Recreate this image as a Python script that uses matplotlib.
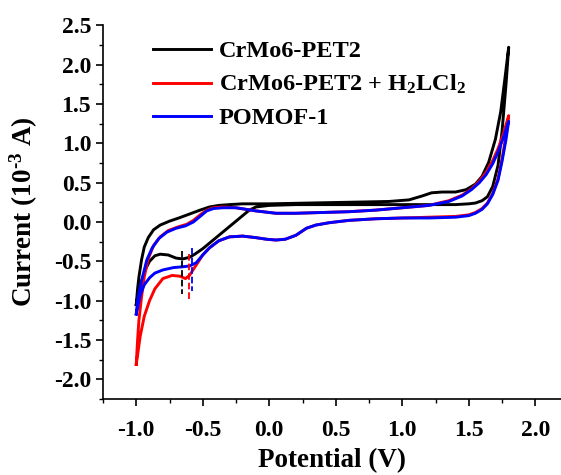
import matplotlib
matplotlib.use('Agg')
import matplotlib.pyplot as plt
from matplotlib.ticker import MultipleLocator

plt.rcParams['font.family'] = ['Liberation Serif', 'DejaVu Serif']
plt.rcParams['font.weight'] = 'bold'
plt.rcParams['mathtext.fontset'] = 'custom'
plt.rcParams['mathtext.rm'] = 'Liberation Serif:bold'
plt.rcParams['mathtext.it'] = 'Liberation Serif:bold'
plt.rcParams['mathtext.bf'] = 'Liberation Serif:bold'

# CrMo6-PET2 (black)
blk_fwd_v = [-1.0, -0.99, -0.98, -0.96, -0.94, -0.91, -0.87, -0.82, -0.75, -0.68, -0.6,
             -0.52, -0.45, -0.38, -0.3, -0.2, 0.0, 0.3, 0.6, 0.9, 1.05, 1.15, 1.22, 1.3,
             1.4, 1.48, 1.55, 1.6, 1.65, 1.7, 1.74, 1.77, 1.8]
blk_fwd_i = [-1.05, -0.85, -0.7, -0.48, -0.32, -0.2, -0.1, -0.04, 0.01, 0.05, 0.10,
             0.15, 0.19, 0.21, 0.22, 0.23, 0.23, 0.24, 0.25, 0.26, 0.28, 0.33, 0.37, 0.38,
             0.38, 0.41, 0.48, 0.58, 0.76, 1.05, 1.4, 1.8, 2.22]
blk_rev_v = [1.8, 1.78, 1.75, 1.72, 1.68, 1.64, 1.6, 1.55, 1.5, 1.4, 1.2, 0.9, 0.5, 0.2,
             0.0, -0.1, -0.15, -0.2, -0.3, -0.4, -0.5, -0.56, -0.6, -0.65, -0.7, -0.76,
             -0.82, -0.86, -0.9, -0.93, -0.96, -0.98, -1.0]
blk_rev_i = [2.22, 1.75, 1.15, 0.72, 0.45, 0.32, 0.27, 0.24, 0.23, 0.22, 0.22, 0.22, 0.22,
             0.22, 0.21, 0.19, 0.15, 0.08, -0.06, -0.2, -0.34, -0.41, -0.45, -0.47, -0.46,
             -0.42, -0.41, -0.43, -0.5, -0.6, -0.75, -0.88, -1.05]

# CrMo6-PET2 + H2LCl2 (red)
red_fwd_v = [-1.0, -0.99, -0.98, -0.96, -0.94, -0.91, -0.87, -0.82, -0.76, -0.68, -0.62,
             -0.57, -0.52, -0.47, -0.42, -0.35, -0.25, -0.1, 0.05, 0.2, 0.4, 0.6, 0.8,
             1.0, 1.2, 1.35, 1.45, 1.52, 1.58, 1.63, 1.68, 1.72, 1.76, 1.8]
red_fwd_i = [-1.81, -1.5, -1.25, -0.95, -0.7, -0.47, -0.3, -0.19, -0.11, -0.06, -0.03,
             0.02, 0.09, 0.15, 0.18, 0.19, 0.18, 0.14, 0.11, 0.11, 0.12, 0.13, 0.15,
             0.18, 0.21, 0.27, 0.34, 0.42, 0.52, 0.63, 0.78, 0.93, 1.12, 1.35]
red_rev_v = [1.8, 1.78, 1.75, 1.72, 1.68, 1.64, 1.6, 1.55, 1.5, 1.4, 1.2, 1.0, 0.8, 0.6,
             0.45, 0.35, 0.28, 0.2, 0.12, 0.05, -0.02, -0.1, -0.2, -0.3, -0.38, -0.45,
             -0.5, -0.55, -0.6, -0.63, -0.67, -0.73, -0.8, -0.86, -0.9, -0.94, -0.97, -1.0]
red_rev_i = [1.35, 1.1, 0.8, 0.55, 0.36, 0.24, 0.17, 0.12, 0.09, 0.07, 0.06, 0.05, 0.04,
             0.02, -0.01, -0.04, -0.08, -0.17, -0.22, -0.23, -0.22, -0.2, -0.18, -0.19,
             -0.24, -0.33, -0.42, -0.55, -0.68, -0.72, -0.69, -0.68, -0.72, -0.85, -1.0,
             -1.2, -1.45, -1.81]

# POMOF-1 (blue)
blu_fwd_v = [-1.0, -0.99, -0.97, -0.95, -0.92, -0.88, -0.83, -0.77, -0.7, -0.63, -0.57,
             -0.52, -0.47, -0.42, -0.35, -0.25, -0.1, 0.05, 0.2, 0.4, 0.6, 0.8, 1.0, 1.2,
             1.35, 1.45, 1.52, 1.58, 1.63, 1.68, 1.72, 1.76, 1.8]
blu_fwd_i = [-1.17, -1.0, -0.82, -0.68, -0.48, -0.33, -0.21, -0.13, -0.08, -0.05, 0.0,
             0.07, 0.14, 0.17, 0.18, 0.18, 0.14, 0.11, 0.11, 0.12, 0.13, 0.15, 0.18, 0.21,
             0.26, 0.33, 0.41, 0.5, 0.6, 0.74, 0.89, 1.07, 1.28]
blu_rev_v = [1.8, 1.78, 1.75, 1.72, 1.68, 1.64, 1.6, 1.55, 1.5, 1.4, 1.2, 1.0, 0.8, 0.6,
             0.45, 0.35, 0.28, 0.2, 0.12, 0.05, -0.02, -0.1, -0.2, -0.3, -0.38, -0.45,
             -0.5, -0.55, -0.6, -0.65, -0.72, -0.8, -0.86, -0.9, -0.94, -0.97, -1.0]
blu_rev_i = [1.28, 1.05, 0.77, 0.53, 0.35, 0.23, 0.16, 0.11, 0.08, 0.06, 0.05, 0.05, 0.04,
             0.02, -0.01, -0.04, -0.08, -0.17, -0.22, -0.23, -0.22, -0.2, -0.18, -0.19,
             -0.24, -0.33, -0.42, -0.52, -0.56, -0.57, -0.58, -0.61, -0.65, -0.71, -0.8,
             -0.93, -1.17]

# peak markers (potential, current top, current bottom)
mark_v = [-0.655, -0.60, -0.58]
mark_top = [-0.37, -0.41, -0.33]
mark_bot = [-0.92, -1.0, -0.88]

labels = ['CrMo6-PET2', 'CrMo6-PET2 + H$_2$LCl$_2$', 'POMOF-1']
colors = ['black', '#ff0000', '#0000ff']

fig = plt.figure(figsize=(5.61, 4.75), dpi=100)
ax = fig.add_axes([0.1836, 0.16, 0.818, 0.787])

curves = [(blk_fwd_v + blk_rev_v, blk_fwd_i + blk_rev_i),
          (red_fwd_v + red_rev_v, red_fwd_i + red_rev_i),
          (blu_fwd_v + blu_rev_v, blu_fwd_i + blu_rev_i)]
for (v, i), c, lab in zip(curves, colors, labels):
    ax.plot(v, i, color=c, lw=2.1, label=lab, solid_joinstyle='round')

for x, t, b, c in zip(mark_v, mark_top, mark_bot, colors):
    ax.plot([x, x], [t, b], color=c, lw=1.3, ls='--')

ax.set_xlim(-1.25, 2.2)
ax.set_ylim(-2.25, 2.5)
ax.xaxis.set_major_locator(MultipleLocator(0.5))
ax.xaxis.set_minor_locator(MultipleLocator(0.25))
ax.yaxis.set_major_locator(MultipleLocator(0.5))
ax.yaxis.set_minor_locator(MultipleLocator(0.25))
ax.spines['top'].set_visible(False)
ax.spines['right'].set_visible(False)
for s in ['left', 'bottom']:
    ax.spines[s].set_linewidth(1.2)
ax.tick_params(which='major', direction='out', length=5, width=1.2, labelsize=17)
ax.tick_params(which='minor', direction='out', length=3, width=1.0)
ax.tick_params(axis='x', which='major', pad=10)
ax.set_xticks([-1.0, -0.5, 0.0, 0.5, 1.0, 1.5, 2.0])
ax.set_yticks([-2.0, -1.5, -1.0, -0.5, 0.0, 0.5, 1.0, 1.5, 2.0, 2.5])
ax.xaxis.set_major_formatter(plt.FuncFormatter(lambda v, p: '%.1f' % v))
ax.yaxis.set_major_formatter(plt.FuncFormatter(lambda v, p: '%.1f' % v))
for lbl in ax.get_xticklabels() + ax.get_yticklabels():
    lbl.set_fontweight('bold')

ax.set_xlabel('Potential (V)', fontsize=19.5, fontweight='bold', labelpad=5)
ax.set_ylabel('Current (10$^{\\text{-3}}$ A)', fontsize=19.5, fontweight='bold',
              labelpad=10)

leg = ax.legend(loc='upper left', bbox_to_anchor=(0.109, 0.96), frameon=False,
                borderaxespad=0, borderpad=0, handlelength=2.4, handletextpad=0.3,
                labelspacing=0.45, prop={'weight': 'bold', 'size': 17.5})

plt.savefig('out.png', dpi=100)
